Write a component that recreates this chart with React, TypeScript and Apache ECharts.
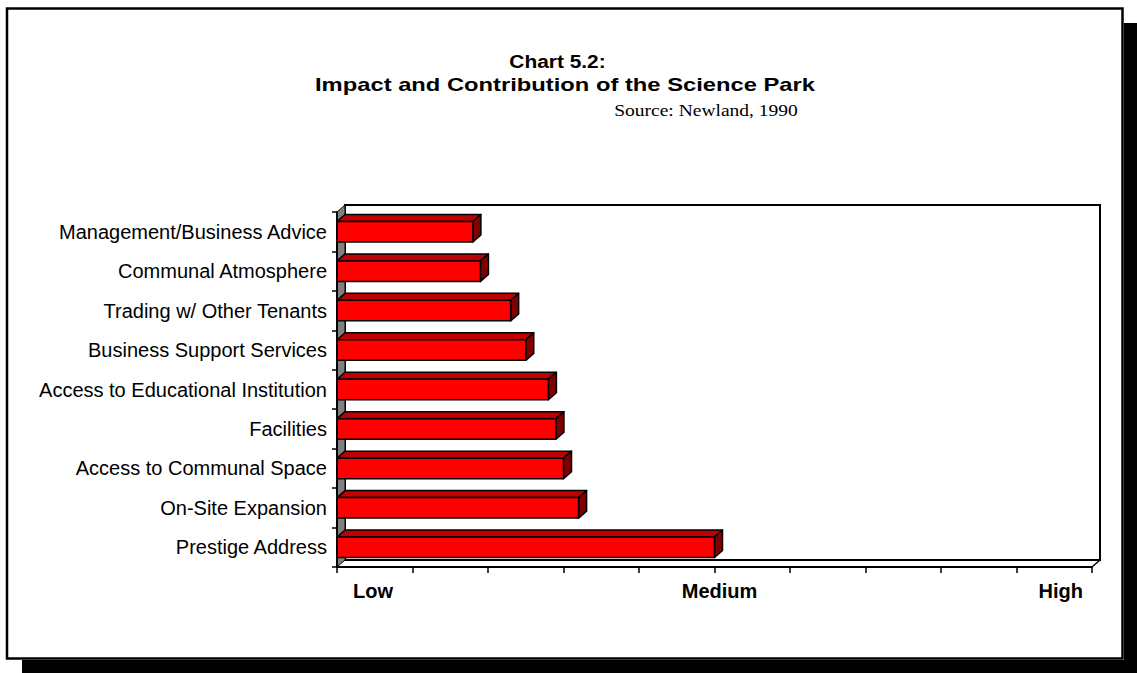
import React, { useEffect, useRef } from "react";
import * as echarts from "echarts";

// Survey items, top to bottom
const categories = [
  "Management/Business Advice",
  "Communal Atmosphere",
  "Trading w/ Other Tenants",
  "Business Support Services",
  "Access to Educational Institution",
  "Facilities",
  "Access to Communal Space",
  "On-Site Expansion",
  "Prestige Address",
];

// Rated impact on a 0 (Low) .. 10 (High) scale
const ratings = [1.8, 1.9, 2.3, 2.5, 2.8, 2.9, 3.0, 3.2, 5.0];

// Named points on the rating scale
const scaleValues = [0, 5, 10];
const scaleLabels = ["Low", "Medium", "High"];

const W = 1137;
const H = 673;
const PLOT = { left: 337, top: 212, right: 1092, bottom: 567 };
const DEPTH_X = 8;
const DEPTH_Y = -7;
const SANS = "'Liberation Sans', Arial, sans-serif";
const SERIF = "'Liberation Serif', 'Times New Roman', serif";

export default function App() {
  const ref = useRef<HTMLDivElement>(null);

  useEffect(() => {
    if (!ref.current) return;
    const chart = echarts.init(ref.current, null, { renderer: "svg" });

    const richKeys = ["lo", "md", "hi"];
    const scaleFont = { fontFamily: SANS, fontWeight: "bold", fontSize: 20, color: "#000" };

    const option: any = {
      animation: false,
      backgroundColor: "#ffffff",
      grid: {
        left: PLOT.left,
        top: PLOT.top,
        right: W - PLOT.right,
        bottom: H - PLOT.bottom,
        containLabel: false,
      },
      xAxis: {
        type: "value",
        min: 0,
        max: 10,
        interval: 1,
        z: 3,
        splitLine: { show: false },
        axisLine: { show: true, lineStyle: { color: "#000", width: 2 } },
        axisTick: { show: true, length: 6, lineStyle: { color: "#000", width: 1.5 } },
        axisLabel: {
          margin: 14,
          showMinLabel: true,
          showMaxLabel: true,
          alignMinLabel: "left",
          alignMaxLabel: "right",
          formatter: (v: number) => {
            const i = scaleValues.indexOf(Math.round(v));
            if (i < 0 || Math.abs(v - scaleValues[i]) > 1e-6) return "";
            return `{${richKeys[i]}|${scaleLabels[i]}}`;
          },
          rich: {
            lo: { ...scaleFont, padding: [0, 0, 0, 16] },
            md: { ...scaleFont, padding: [0, 0, 0, 10] },
            hi: { ...scaleFont, padding: [0, 9, 0, 0] },
          },
        },
      },
      yAxis: {
        type: "category",
        data: categories,
        inverse: true,
        z: 3,
        axisLine: { show: true, lineStyle: { color: "#000", width: 2 } },
        axisTick: { show: true, length: 5, lineStyle: { color: "#000", width: 1.5 } },
        axisLabel: {
          margin: 10,
          fontFamily: SANS,
          fontSize: 20,
          color: "#000",
        },
      },
      graphic: [
        // drop shadow of the frame
        { type: "rect", z: -10, shape: { x: 1124, y: 23, width: 13, height: 650 }, style: { fill: "#000" } },
        { type: "rect", z: -10, shape: { x: 22, y: 660, width: 1115, height: 13 }, style: { fill: "#000" } },
        // frame
        {
          type: "rect",
          z: -9,
          shape: { x: 7, y: 8.5, width: 1115.5, height: 650 },
          style: { fill: "#fff", stroke: "#000", lineWidth: 2.5 },
        },
        // back wall
        {
          type: "rect",
          z: 1,
          shape: {
            x: PLOT.left + DEPTH_X,
            y: PLOT.top + DEPTH_Y,
            width: PLOT.right - PLOT.left,
            height: PLOT.bottom - PLOT.top,
          },
          style: { fill: "#fff", stroke: "#000", lineWidth: 2 },
        },
        // side wall
        {
          type: "polygon",
          z: 1,
          shape: {
            points: [
              [PLOT.left, PLOT.top],
              [PLOT.left + DEPTH_X, PLOT.top + DEPTH_Y],
              [PLOT.left + DEPTH_X, PLOT.bottom + DEPTH_Y],
              [PLOT.left, PLOT.bottom],
            ],
          },
          style: { fill: "#808080", stroke: "#000", lineWidth: 1 },
        },
        // floor edge on the right
        {
          type: "line",
          z: 1,
          shape: { x1: PLOT.right, y1: PLOT.bottom, x2: PLOT.right + DEPTH_X, y2: PLOT.bottom + DEPTH_Y },
          style: { stroke: "#000", lineWidth: 1.5 },
        },
        // titles
        {
          type: "text",
          z: 5,
          x: 557.5,
          y: 61,
          scaleX: 1.1,
          style: {
            text: "Chart 5.2:",
            fontFamily: SANS,
            fontWeight: "bold",
            fontSize: 19,
            fill: "#000",
            align: "center",
            verticalAlign: "middle",
          },
        },
        {
          type: "text",
          z: 5,
          x: 565,
          y: 85,
          scaleX: 1.25,
          style: {
            text: "Impact and Contribution of the Science Park",
            fontFamily: SANS,
            fontWeight: "bold",
            fontSize: 19,
            fill: "#000",
            align: "center",
            verticalAlign: "middle",
          },
        },
        {
          type: "text",
          z: 5,
          x: 706,
          y: 111,
          scaleX: 1.22,
          style: {
            text: "Source: Newland, 1990",
            fontFamily: SERIF,
            fontSize: 16,
            fill: "#000",
            align: "center",
            verticalAlign: "middle",
          },
        },
      ],
      series: [
        {
          type: "custom",
          z: 2,
          encode: { x: 0, y: 1 },
          data: ratings.map((v, i) => [v, i]),
          renderItem: (_params: any, api: any) => {
            const val = api.value(0);
            const idx = api.value(1);
            const start = api.coord([0, idx]);
            const end = api.coord([val, idx]);
            const band = api.size([0, 1])[1];
            const h = band * 0.52;
            const x0 = start[0];
            const x1 = end[0];
            const yT = end[1] - h / 2;
            const yB = end[1] + h / 2;
            const edge = { stroke: "#000", lineWidth: 1.5, lineJoin: "round" };
            return {
              type: "group",
              children: [
                {
                  type: "polygon",
                  shape: {
                    points: [
                      [x0, yT],
                      [x0 + DEPTH_X, yT + DEPTH_Y],
                      [x1 + DEPTH_X, yT + DEPTH_Y],
                      [x1, yT],
                    ],
                  },
                  style: { fill: "#c00000", ...edge },
                },
                {
                  type: "polygon",
                  shape: {
                    points: [
                      [x1, yT],
                      [x1 + DEPTH_X, yT + DEPTH_Y],
                      [x1 + DEPTH_X, yB + DEPTH_Y],
                      [x1, yB],
                    ],
                  },
                  style: { fill: "#800000", ...edge },
                },
                {
                  type: "rect",
                  shape: { x: x0, y: yT, width: x1 - x0, height: yB - yT },
                  style: { fill: "#ff0000", ...edge },
                },
              ],
            };
          },
        },
      ],
    };

    chart.setOption(option);
    return () => chart.dispose();
  }, []);

  return (
    <div
      ref={ref}
      style={{ position: "absolute", left: 0, top: 0, width: W, height: H }}
    />
  );
}
